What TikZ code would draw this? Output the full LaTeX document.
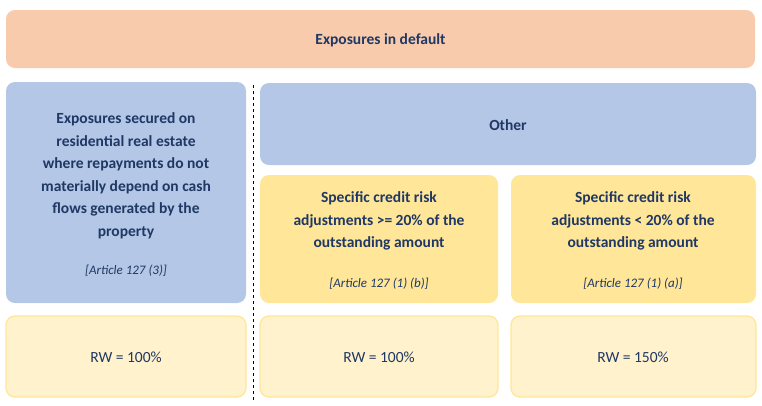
\documentclass[tikz,border=0pt]{standalone}
\usepackage{fontspec}
\setmainfont{Carlito}
\definecolor{peach}{HTML}{F8CBAD}
\definecolor{lblue}{HTML}{B4C7E7}
\definecolor{yel}{HTML}{FFE699}
\definecolor{lyel}{HTML}{FFF2CC}
\definecolor{navy}{HTML}{1F3864}
\begin{document}
\begin{tikzpicture}[x=1pt,y=-1pt,
  box/.style={rounded corners=9pt,inner sep=0pt},
  t/.style={font=\fontsize{15.5}{22.5}\selectfont\bfseries,text=navy,align=center},
  art/.style={font=\fontsize{13}{16}\selectfont\itshape,text=navy},
  rw/.style={font=\fontsize{15.5}{18}\selectfont,text=navy}]
\useasboundingbox (0,0) rectangle (762,405);
\fill[peach,box] (6,10) rectangle (755,68);
\node[t] (top) at (380.5,40) {Exposures in default};
\fill[lblue,box] (6,82) rectangle (246,303);
\node[t] (left) at (126,176) {Exposures secured on\\residential real estate\\where repayments do not\\materially depend on cash\\flows generated by the\\property};
\node[art] (la) at (126,271) {[Article 127 (3)]};
\fill[lblue,box] (260,83) rectangle (756,165);
\node[t] (oth) at (508,125) {Other};
\fill[yel,box] (260,175) rectangle (498,303);
\node[t] (y1) at (379,221) {Specific credit risk\\adjustments >= 20\% of the\\outstanding amount};
\node[art] (a1) at (379,284) {[Article 127 (1) (b)]};
\fill[yel,box] (511,175) rectangle (756,303);
\node[t] (y2) at (633,221) {Specific credit risk\\adjustments < 20\% of the\\outstanding amount};
\node[art] (a2) at (633,284) {[Article 127 (1) (a)]};
\draw[yel,fill=lyel,box,line width=1.3pt] (6,316) rectangle (246,397);
\draw[yel,fill=lyel,box,line width=1.3pt] (260,316) rectangle (498,397);
\draw[yel,fill=lyel,box,line width=1.3pt] (511,316) rectangle (756,397);
\node[rw] (r1) at (126,357) {RW = 100\%};
\node[rw] (r2) at (379,357) {RW = 100\%};
\node[rw] (r3) at (633,357) {RW = 150\%};
\draw[dashed,black,line width=0.8pt] (253,85) -- (253,400);
\end{tikzpicture}
\end{document}
